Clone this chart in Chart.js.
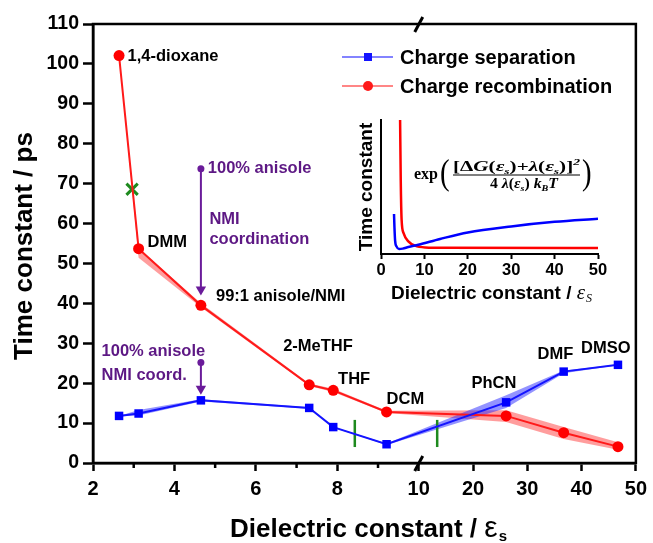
<!DOCTYPE html>
<html>
<head>
<meta charset="utf-8">
<script src="https://cdn.jsdelivr.net/npm/chart.js@4.4.1/dist/chart.umd.min.js"></script>
<style>
    html, body { margin: 0; padding: 0; background: #fff; }
    #wrap { position: relative; width: 653px; height: 543px; }
    #mainChart { position: absolute; left: 0; top: 0; }
    #insetChart { position: absolute; left: 330px; top: 100px; }
</style>
</head>
<body>
<div id="wrap">
    <canvas id="mainChart" width="653" height="543"></canvas>
    <canvas id="insetChart" width="300" height="210"></canvas>
</div>
<script>
// --- data ---
const solvents = ['1,4-dioxane', 'DMM', '99:1 anisole/NMI', '2-MeTHF', 'THF', 'DCM', 'PhCN', 'DMF', 'DMSO'];
const solventEps = [2.64, 3.12, 4.65, 7.31, 7.90, 9.21, 26.1, 36.7, 46.7];

const sepTau = [11.8, 12.4, 15.7, 13.8, 9.0, 4.7, 15.2, 22.9, 24.6];
const sepLow = [11.8, 11.9, 15.4, 13.6, 8.9, 4.5, 13.8, 22.5, 24.5];
const sepHigh = [11.8, 13.3, 16.0, 14.0, 9.1, 4.9, 17.0, 23.2, 24.7];

const recTau = [102.1, 53.7, 39.5, 19.6, 18.2, 12.8, 11.8, 7.6, 4.1];
const recLow = [102.1, 51.4, 39.0, 19.3, 17.8, 12.5, 10.3, 6.0, 3.3];
const recHigh = [102.1, 53.8, 40.0, 19.9, 18.6, 13.1, 13.2, 9.0, 5.2];

const crossEps = [2.96];
const crossTau = [68.6];
const barrierEps = [8.43, 13.4];
const barrierTau = [4.0, 10.8];

const arrowEps = [4.65, 4.65];
const arrowRecTau = [73.7, 43.5];
const arrowSepTau = [25.2, 18.6];

const xMajorTicks = [2, 4, 6, 8, 10, 20, 30, 40, 50];
const xMinorTicks = [3, 5, 7, 9];

// inset (arbitrary units)
const insetRecEps = [4.4, 4.55, 4.75, 5.2, 6.3, 7.85, 10.2, 15, 50];
const insetRecVal = [100, 55, 25.5, 15.6, 9.4, 6.2, 4.9, 4.6, 4.5];
const insetSepEps = [3.0, 3.1, 3.25, 3.6, 4.15, 5.0, 6.3, 8.6, 13.6, 20, 30, 40, 50];
const insetSepVal = [29.8, 20, 10, 5.5, 3.7, 4.0, 5.2, 6.9, 11.2, 16.1, 20.6, 24.0, 26.3];

// --- broken x axis: 2..10 linear, 10..50 compressed ---
const BREAK_AT = 10;
const RIGHT_SCALE = 2 / 15;
function toAxis(eps) { return eps <= BREAK_AT ? eps : BREAK_AT + (eps - BREAK_AT) * RIGHT_SCALE; }
function fromAxis(u) { return u <= BREAK_AT ? u : BREAK_AT + (u - BREAK_AT) / RIGHT_SCALE; }
function pts(xs, ys) { return xs.map((x, i) => ({ x: toAxis(x), y: ys[i] })); }

const SANS = "'Liberation Sans', Arial, sans-serif";
const SERIF = "'Liberation Serif', 'Times New Roman', serif";
const BLUE = '#1414ff';
const RED = '#ff1a1a';
const GREEN = '#1e8a1e';
const PURPLE = '#5d1884';

const labels = [
    { text: '1,4-dioxane', eps: 2.85, tau: 101.9, color: '#000' },
    { text: 'DMM', eps: 3.34, tau: 55.3, color: '#000' },
    { text: '100% anisole', eps: 4.82, tau: 73.9, color: PURPLE },
    { text: 'NMI', eps: 4.86, tau: 61.0, color: PURPLE },
    { text: 'coordination', eps: 4.86, tau: 55.9, color: PURPLE },
    { text: '99:1 anisole/NMI', eps: 5.02, tau: 41.7, color: '#000' },
    { text: '2-MeTHF', eps: 6.67, tau: 29.1, color: '#000' },
    { text: 'THF', eps: 8.02, tau: 21.0, color: '#000' },
    { text: 'DCM', eps: 9.21, tau: 16.0, color: '#000' },
    { text: 'PhCN', eps: 19.7, tau: 20.0, color: '#000' },
    { text: 'DMF', eps: 31.9, tau: 27.1, color: '#000' },
    { text: 'DMSO', eps: 39.9, tau: 28.6, color: '#000' },
    { text: '100% anisole', eps: 2.21, tau: 27.9, color: PURPLE },
    { text: 'NMI coord.', eps: 2.21, tau: 21.9, color: PURPLE }
];

function drawTitleWithSub(ctx, main, sym, sub, cx, cy, mainFont, symFont, subFont, subDy) {
    ctx.font = mainFont;
    const w1 = ctx.measureText(main).width;
    ctx.font = symFont;
    const w2 = ctx.measureText(sym).width;
    ctx.font = subFont;
    const w3 = ctx.measureText(sub).width;
    let x = cx - (w1 + w2 + w3) / 2;
    ctx.textAlign = 'left';
    ctx.textBaseline = 'alphabetic';
    ctx.font = mainFont;
    ctx.fillText(main, x, cy);
    x += w1;
    ctx.font = symFont;
    ctx.fillText(sym, x, cy);
    x += w2 + 1;
    ctx.font = subFont;
    ctx.fillText(sub, x, cy + subDy);
}

const mainOverlay = {
    id: 'mainOverlay',
    afterDraw(chart) {
        const { ctx, chartArea: a, scales: { x, y } } = chart;
        ctx.save();
        ctx.strokeStyle = '#000';
        ctx.lineWidth = 2.5;
        ctx.strokeRect(a.left, a.top, a.right - a.left, a.bottom - a.top);

        // minor ticks
        xMinorTicks.forEach((v) => {
            const px = x.getPixelForValue(toAxis(v));
            ctx.beginPath();
            ctx.moveTo(px, a.bottom);
            ctx.lineTo(px, a.bottom + 5);
            ctx.stroke();
        });

        // axis break marks
        const bx = x.getPixelForValue(toAxis(BREAK_AT));
        ctx.lineWidth = 3;
        [a.top, a.bottom].forEach((by) => {
            ctx.beginPath();
            ctx.moveTo(bx - 4, by + 8);
            ctx.lineTo(bx + 4, by - 7);
            ctx.stroke();
        });

        // point labels
        ctx.textAlign = 'left';
        ctx.textBaseline = 'middle';
        ctx.font = `bold 16.5px ${SANS}`;
        labels.forEach((l) => {
            ctx.fillStyle = l.color;
            ctx.fillText(l.text, x.getPixelForValue(toAxis(l.eps)), y.getPixelForValue(l.tau));
        });

        // legend
        const entries = [
            { label: 'Charge separation', color: BLUE, style: 'rect', ly: 57 },
            { label: 'Charge recombination', color: RED, style: 'circle', ly: 86 }
        ];
        entries.forEach((e) => {
            ctx.strokeStyle = e.color;
            ctx.globalAlpha = 0.7;
            ctx.lineWidth = 1.5;
            ctx.beginPath();
            ctx.moveTo(342, e.ly);
            ctx.lineTo(393, e.ly);
            ctx.stroke();
            ctx.globalAlpha = 1;
            ctx.fillStyle = e.color;
            if (e.style === 'rect') {
                ctx.fillRect(364, e.ly - 4, 8, 8);
            } else {
                ctx.beginPath();
                ctx.arc(368, e.ly, 5, 0, Math.PI * 2);
                ctx.fill();
            }
            ctx.fillStyle = '#000';
            ctx.font = `bold 20px ${SANS}`;
            ctx.textBaseline = 'middle';
            ctx.fillText(e.label, 400, e.ly + 1);
        });

        // axis titles
        ctx.fillStyle = '#000';
        ctx.save();
        ctx.translate(25, 246);
        ctx.rotate(-Math.PI / 2);
        ctx.textAlign = 'center';
        ctx.textBaseline = 'middle';
        ctx.font = `bold 26px ${SANS}`;
        ctx.fillText('Time constant / ps', 0, 0);
        ctx.restore();

        drawTitleWithSub(ctx, 'Dielectric constant / ', 'ε', 's', 368, 537,
            `bold 26px ${SANS}`, `30px ${SANS}`, `bold 15px ${SANS}`, 4);
        ctx.restore();
    }
};

const lineDefaults = { showLine: true, fill: false, tension: 0 };

new Chart(document.getElementById('mainChart'), {
    type: 'line',
    data: {
        datasets: [
            { ...lineDefaults, label: 'Charge separation', data: pts(solventEps, sepTau), borderColor: BLUE, borderWidth: 2,
              pointStyle: 'rect', pointRadius: 6, pointBackgroundColor: '#0000ff', pointBorderWidth: 0 },
            { ...lineDefaults, label: 'Charge recombination', data: pts(solventEps, recTau), borderColor: RED, borderWidth: 2,
              pointStyle: 'circle', pointRadius: 5.5, pointBackgroundColor: '#ff0000', pointBorderWidth: 0 },
            { label: 'cross', data: pts(crossEps, crossTau), showLine: false, pointStyle: 'crossRot', pointRadius: 8,
              pointBorderColor: GREEN, pointBorderWidth: 3 },
            { label: 'barrier1', data: pts([barrierEps[0], barrierEps[0]], barrierTau), borderColor: GREEN, borderWidth: 2.5, pointRadius: 0 },
            { label: 'barrier2', data: pts([barrierEps[1], barrierEps[1]], barrierTau), borderColor: GREEN, borderWidth: 2.5, pointRadius: 0 },
            { label: 'arrowRec', data: pts(arrowEps, arrowRecTau), borderColor: '#6a1b9a', borderWidth: 2,
              pointStyle: ['circle', 'triangle'], pointRotation: [0, 180], pointRadius: [3.5, 6],
              pointBackgroundColor: '#6a1b9a', pointBorderWidth: 0 },
            { label: 'arrowSep', data: pts(arrowEps, arrowSepTau), borderColor: '#6a1b9a', borderWidth: 2,
              pointStyle: ['circle', 'triangle'], pointRotation: [0, 180], pointRadius: [3.5, 6],
              pointBackgroundColor: '#6a1b9a', pointBorderWidth: 0 },
            { label: 'sepHigh', data: pts(solventEps, sepHigh), borderColor: 'transparent', borderWidth: 0, pointRadius: 0,
              fill: '+1', backgroundColor: 'rgba(40,40,255,0.5)' },
            { label: 'sepLow', data: pts(solventEps, sepLow), borderColor: 'transparent', borderWidth: 0, pointRadius: 0 },
            { label: 'recHigh', data: pts(solventEps, recHigh), borderColor: 'transparent', borderWidth: 0, pointRadius: 0,
              fill: '+1', backgroundColor: 'rgba(255,60,60,0.5)' },
            { label: 'recLow', data: pts(solventEps, recLow), borderColor: 'transparent', borderWidth: 0, pointRadius: 0 }
        ]
    },
    options: {
        responsive: false,
        animation: false,
        layout: { padding: { left: 0, top: 24, right: 15, bottom: 0 } },
        plugins: { legend: { display: false }, tooltip: { enabled: false } },
        scales: {
            x: {
                type: 'linear',
                min: toAxis(2),
                max: toAxis(50),
                afterBuildTicks: (s) => { s.ticks = xMajorTicks.map((v) => ({ value: toAxis(v) })); },
                afterFit: (s) => { s.height = 80; },
                ticks: {
                    autoSkip: false, maxRotation: 0, padding: 6, color: '#000',
                    font: { family: SANS, size: 20, weight: 'bold' },
                    callback: (v) => String(Math.round(fromAxis(v)))
                },
                grid: { drawOnChartArea: false, drawTicks: true, tickLength: 8, tickWidth: 2.5, tickColor: '#000' },
                border: { display: true, color: '#000', width: 2.5 }
            },
            y: {
                min: 0,
                max: 110,
                afterFit: (s) => { s.width = 93; },
                ticks: { stepSize: 10, padding: 4, color: '#000', font: { family: SANS, size: 19.5, weight: 'bold' } },
                grid: { drawOnChartArea: false, drawTicks: true, tickLength: 10, tickWidth: 2.5, tickColor: '#000' },
                border: { display: true, color: '#000', width: 2.5 }
            }
        }
    },
    plugins: [mainOverlay]
});

// --- inset ---
function drawRuns(ctx, runs, left, baseline, targetWidth) {
    let total = 0;
    runs.forEach((r) => { ctx.font = r.font; total += ctx.measureText(r.t).width; });
    const sx = targetWidth / total;
    ctx.save();
    ctx.translate(left, baseline);
    ctx.scale(sx, 1);
    let x = 0;
    runs.forEach((r) => {
        ctx.font = r.font;
        ctx.fillText(r.t, x, r.dy || 0);
        x += ctx.measureText(r.t).width;
    });
    ctx.restore();
}

const insetOverlay = {
    id: 'insetOverlay',
    afterDraw(chart) {
        const { ctx } = chart;
        ctx.save();
        ctx.fillStyle = '#000';
        ctx.save();
        ctx.translate(37, 87);
        ctx.rotate(-Math.PI / 2);
        ctx.textAlign = 'center';
        ctx.textBaseline = 'middle';
        ctx.font = `bold 19px ${SANS}`;
        ctx.fillText('Time constant', 0, 0);
        ctx.restore();

        drawTitleWithSub(ctx, 'Dielectric constant / ', 'ε', 'S', 161, 199,
            `bold 19px ${SANS}`, `italic 21px ${SERIF}`, `italic 12px ${SERIF}`, 3);

        // formula
        ctx.textAlign = 'left';
        ctx.textBaseline = 'alphabetic';
        ctx.font = `bold 16px ${SERIF}`;
        ctx.fillText('exp', 84, 79);
        ctx.save();
        ctx.translate(110, 84);
        ctx.scale(0.8, 1);
        ctx.font = `36px ${SERIF}`;
        ctx.fillText('(', 0, 0);
        ctx.restore();
        ctx.save();
        ctx.translate(252, 84);
        ctx.scale(0.8, 1);
        ctx.font = `36px ${SERIF}`;
        ctx.fillText(')', 0, 0);
        ctx.restore();

        const bi = `bold italic 14px ${SERIF}`;
        const bs = `bold italic 9px ${SERIF}`;
        const bu = `bold 14px ${SERIF}`;
        drawRuns(ctx, [
            { t: '[', font: bu }, { t: 'Δ', font: bu }, { t: 'G', font: bi }, { t: '(', font: bu },
            { t: 'ε', font: bi }, { t: 's', font: bs, dy: 3 }, { t: ')+', font: bu }, { t: 'λ', font: bi },
            { t: '(', font: bu }, { t: 'ε', font: bi }, { t: 's', font: bs, dy: 3 }, { t: ')]', font: bu },
            { t: '2', font: bs, dy: -6 }
        ], 123, 71, 127);
        ctx.strokeStyle = '#000';
        ctx.lineWidth = 1.2;
        ctx.beginPath();
        ctx.moveTo(123, 75);
        ctx.lineTo(250, 75);
        ctx.stroke();
        drawRuns(ctx, [
            { t: '4 ', font: bu }, { t: 'λ', font: bi }, { t: '(', font: bu }, { t: 'ε', font: bi },
            { t: 's', font: bs, dy: 3 }, { t: ')', font: bu }, { t: ' k', font: bi }, { t: 'B', font: bs, dy: 3 },
            { t: 'T', font: bi }
        ], 160, 88, 68);
        ctx.restore();
    }
};

new Chart(document.getElementById('insetChart'), {
    type: 'line',
    data: {
        datasets: [
            { label: 'separation', data: insetSepEps.map((x, i) => ({ x, y: insetSepVal[i] })), borderColor: '#0000ff',
              borderWidth: 2.5, pointRadius: 0, cubicInterpolationMode: 'monotone' },
            { label: 'recombination', data: insetRecEps.map((x, i) => ({ x, y: insetRecVal[i] })), borderColor: '#ff0000',
              borderWidth: 2.5, pointRadius: 0, cubicInterpolationMode: 'monotone' }
        ]
    },
    options: {
        responsive: false,
        animation: false,
        layout: { padding: { left: 0, top: 20, right: 32, bottom: 0 } },
        plugins: { legend: { display: false }, tooltip: { enabled: false } },
        scales: {
            x: {
                type: 'linear', min: 0, max: 50,
                afterFit: (s) => { s.height = 56; },
                ticks: { stepSize: 10, maxRotation: 0, padding: 2, color: '#000', font: { family: SANS, size: 16.5, weight: 'bold' } },
                grid: { drawOnChartArea: false, drawTicks: true, tickLength: 5, tickWidth: 2, tickColor: '#000' },
                border: { display: true, color: '#000', width: 2 }
            },
            y: {
                min: 0, max: 100,
                afterFit: (s) => { s.width = 51; },
                ticks: { display: false },
                grid: { drawOnChartArea: false, drawTicks: false },
                border: { display: true, color: '#000', width: 2 }
            }
        }
    },
    plugins: [insetOverlay]
});
</script>
</body>
</html>
